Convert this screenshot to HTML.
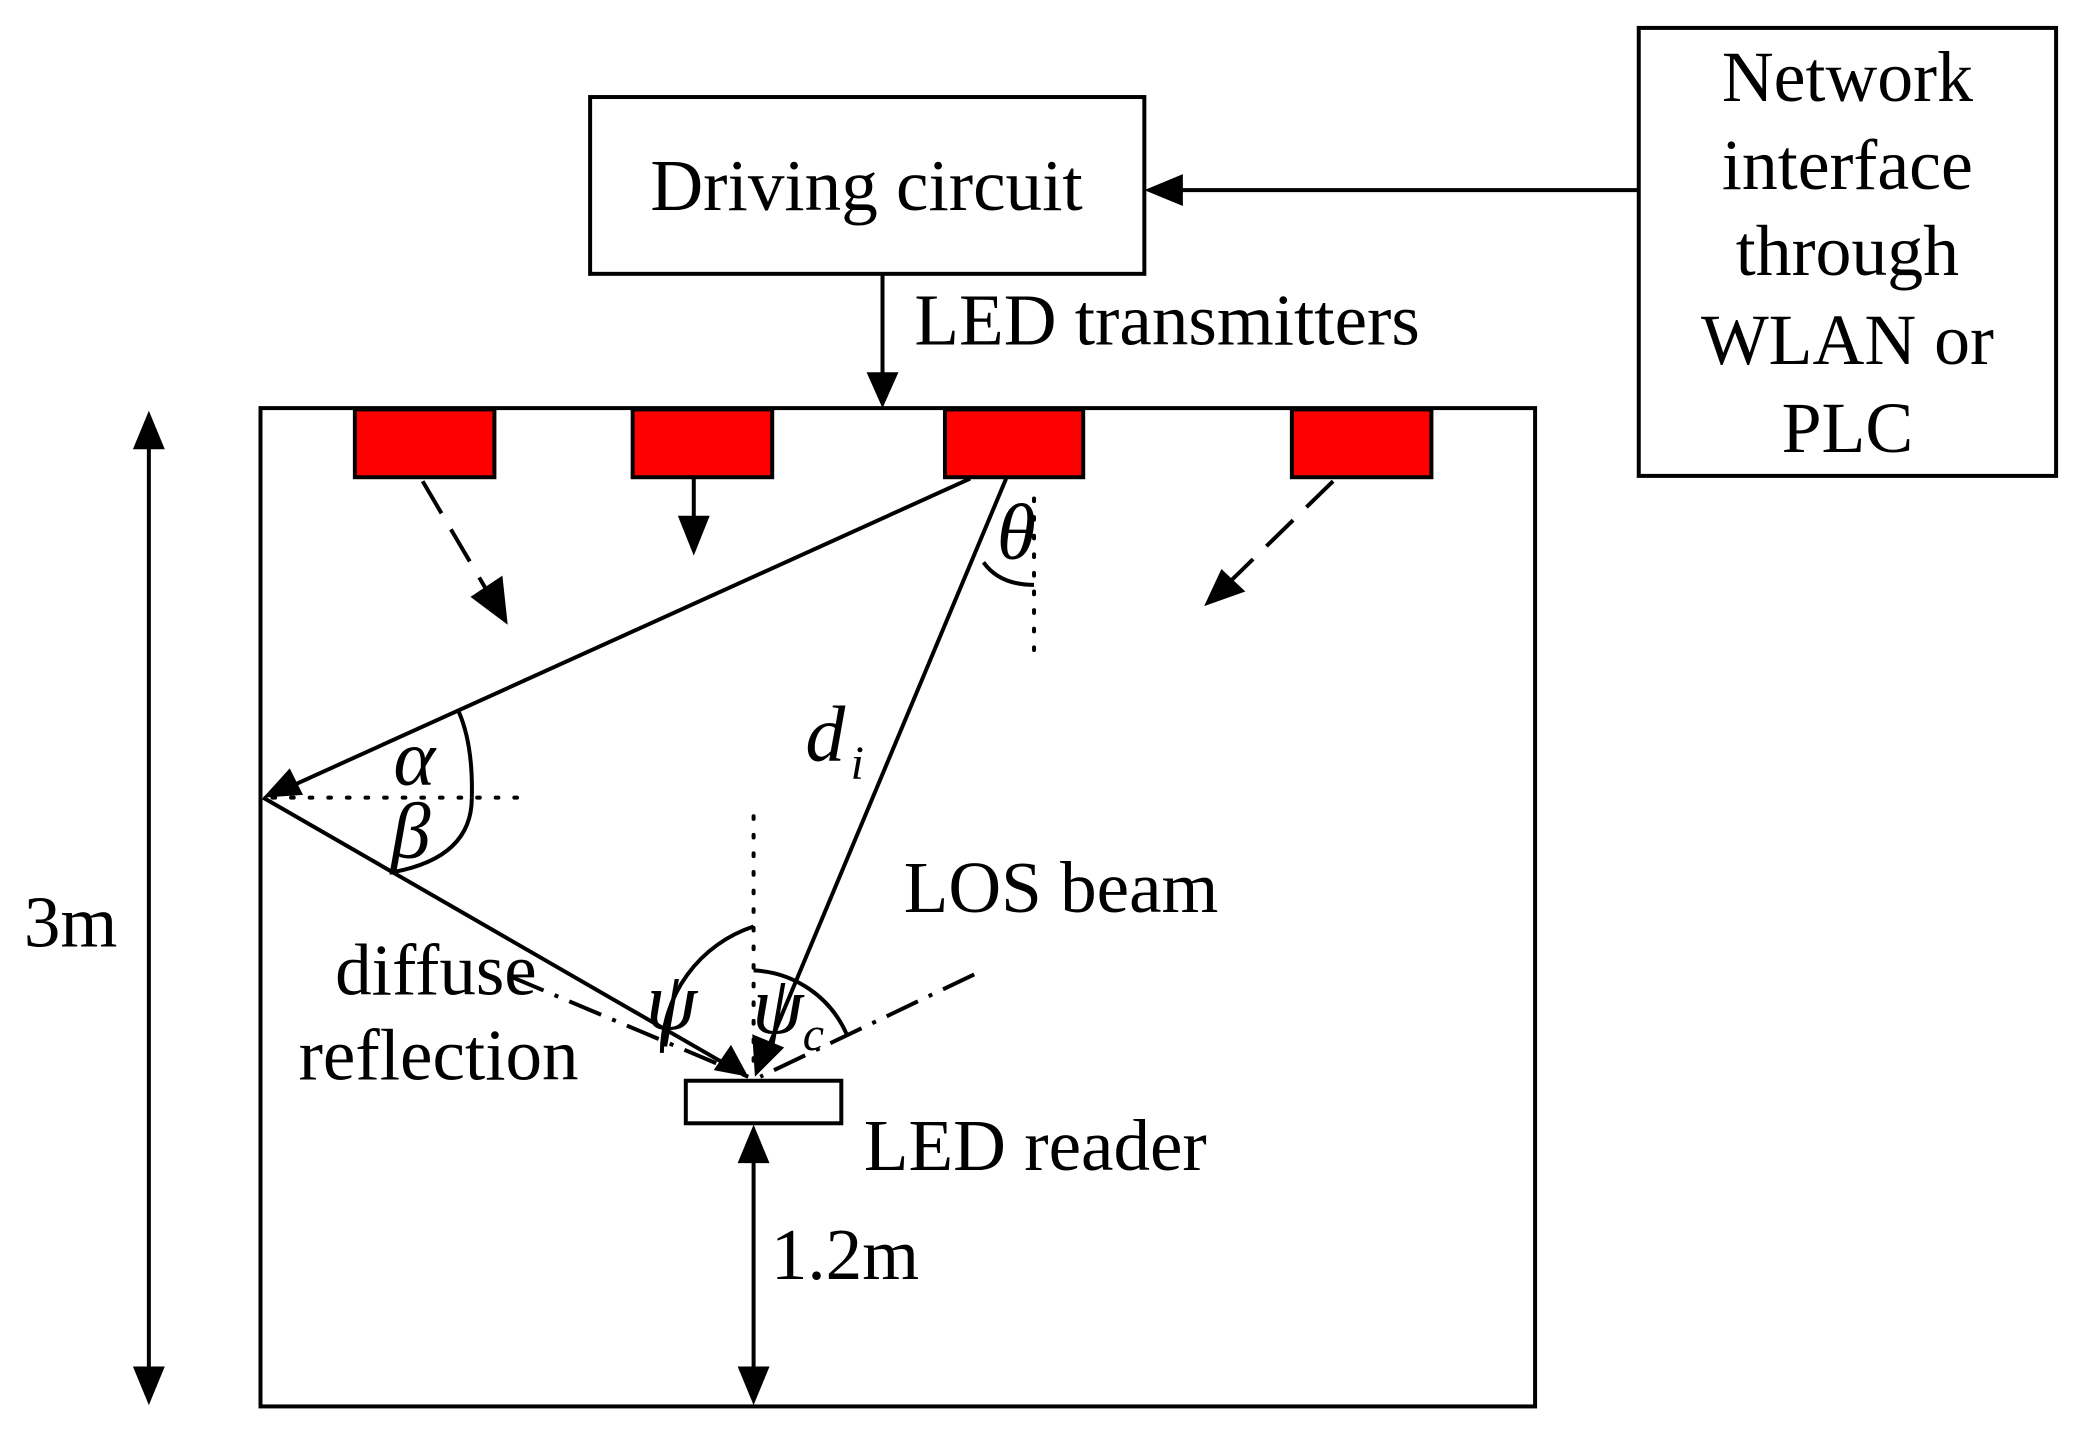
<!DOCTYPE html>
<html><head><meta charset="utf-8"><style>
html,body{margin:0;padding:0;background:#fff;}
svg{display:block}
text{font-family:"Liberation Serif",serif;fill:#000}
.i{font-style:italic}
</style></head><body>
<svg width="2084" height="1437" viewBox="0 0 1568 1081" preserveAspectRatio="none">
<g fill="none" stroke="#000" stroke-width="3">
<rect x="444" y="73" width="417" height="133"/>
<rect x="1233" y="21" width="314" height="337"/>
<rect x="196" y="307" width="959" height="751"/>
<rect x="516" y="813" width="117" height="32"/>
<line x1="1233" y1="143" x2="885" y2="143"/>
<line x1="664" y1="206" x2="664" y2="285"/>
<line x1="318" y1="362" x2="365" y2="442" stroke-dasharray="28,14"/>
<line x1="522" y1="360" x2="522" y2="392"/>
<line x1="1003" y1="362" x2="926" y2="437" stroke-dasharray="28,14"/>
<line x1="730" y1="360" x2="220" y2="591"/>
<line x1="757" y1="360" x2="578" y2="788"/>
<line x1="198" y1="600" x2="545" y2="800"/>
<line x1="385" y1="735" x2="563" y2="810" stroke-dasharray="26,9,3,9"/>
<line x1="733" y1="733" x2="572" y2="810" stroke-dasharray="26,9,3,9"/>
<line x1="112" y1="330" x2="112" y2="1035"/>
<line x1="567" y1="868" x2="567" y2="1035"/>
<path d="M740,423 Q752,440 778,440"/>
<path d="M345,535 Q356,560 355,600"/>
<path d="M355,600 Q355,645 296,656" />
<path d="M498,792 A 100 100 0 0 1 567,697"/>
<path d="M567,730 A 80 80 0 0 1 637,778"/>
</g>
<g fill="none" stroke="#000" stroke-width="3" stroke-dasharray="2,12" stroke-linecap="round">
<line x1="205" y1="600" x2="400" y2="600"/>
<line x1="778" y1="375" x2="778" y2="492"/>
<line x1="567" y1="614" x2="567" y2="808"/>
</g>
<g fill="red" stroke="#000" stroke-width="3">
<rect x="267" y="308" width="105" height="51"/>
<rect x="476" y="308" width="105" height="51"/>
<rect x="711" y="308" width="104" height="51"/>
<rect x="972" y="308" width="105" height="51"/>
</g>
<g fill="#000">
<polygon points="861,143 890,131 890,155"/>
<polygon points="664,307 652,280 676,280"/>
<polygon points="382,470 354,449 378,433"/>
<polygon points="522,418 510,388 534,388"/>
<polygon points="906,456 919,428 937,445"/>
<polygon points="198,600 218,578 228,598"/>
<polygon points="568,810 566,778 590,788"/>
<polygon points="563,810 537,805 550,786"/>
<polygon points="112,309 100,338 124,338"/>
<polygon points="112,1057 100,1028 124,1028"/>
<polygon points="567,846 555,875 579,875"/>
<polygon points="567,1057 555,1028 579,1028"/>
</g>
<g font-size="55">
<text x="652" y="158" text-anchor="middle">Driving circuit</text>
<g text-anchor="middle" font-size="54">
<text x="1390" y="76">Network</text>
<text x="1390" y="142">interface</text>
<text x="1390" y="207">through</text>
<text x="1390" y="274">WLAN or</text>
<text x="1390" y="340">PLC</text>
</g>
<text x="688" y="259">LED transmitters</text>
<text x="680" y="686">LOS beam</text>
<text x="328" y="748" text-anchor="middle">diffuse</text>
<text x="330" y="812" text-anchor="middle">reflection</text>
<text x="650" y="880">LED reader</text>
<text x="580" y="962">1.2m</text>
<text x="18" y="712">3m</text>
<text class="i" x="750" y="420" font-size="60">θ</text>
<text class="i" x="296" y="590" font-size="60">α</text>
<text class="i" x="294" y="645" font-size="60">β</text>
<text class="i" x="606" y="572" font-size="60">d</text>
<text class="i" x="640" y="586" font-size="36">i</text>
<text class="i" x="486" y="774" font-size="62">ψ</text>
<text class="i" x="566" y="777" font-size="62">ψ</text>
<text class="i" x="604" y="790" font-size="36">c</text>
</g>
</svg>
</body></html>
